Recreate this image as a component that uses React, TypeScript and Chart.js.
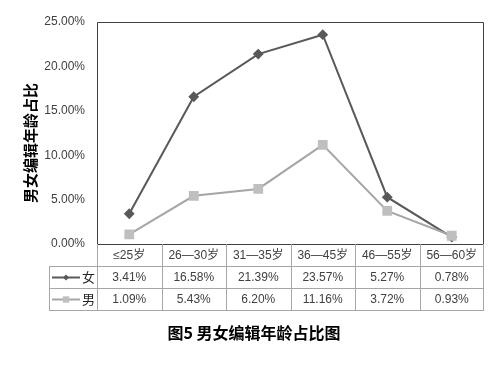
import React, { useEffect, useRef } from 'react';
import { Chart, registerables } from 'chart.js';

Chart.register(...registerables);

const categories = ['≤25岁', '26—30岁', '31—35岁', '36—45岁', '46—55岁', '56—60岁'];
const femaleValues = [3.41, 16.58, 21.39, 23.57, 5.27, 0.78];
const maleValues = [1.09, 5.43, 6.2, 11.16, 3.72, 0.93];
const seriesNames = ['女', '男'];
const yMin = 0;
const yMax = 25;
const yStep = 5;
const yTitle = '男女编辑年龄占比';
const caption = '图5 男女编辑年龄占比图';

const FONT = "'Liberation Sans', 'Noto Sans CJK SC', sans-serif";
const CJK = "'Noto Sans CJK SC', 'Liberation Sans', sans-serif";

const ROW_H = 22;
const LEGEND_W = 48;

function drawMarker(ctx: CanvasRenderingContext2D, style: string, x: number, y: number, r: number, color: string) {
  ctx.save();
  ctx.fillStyle = color;
  ctx.beginPath();
  if (style === 'rectRot') {
    ctx.moveTo(x, y - r);
    ctx.lineTo(x + r, y);
    ctx.lineTo(x, y + r);
    ctx.lineTo(x - r, y);
    ctx.closePath();
  } else {
    const s = r * Math.SQRT1_2;
    ctx.rect(x - s, y - s, 2 * s, 2 * s);
  }
  ctx.fill();
  ctx.restore();
}

const tablePlugin = {
  id: 'dataTable',
  beforeDatasetsDraw(chart: any) {
    const { ctx, chartArea } = chart;
    const { left, right, top, bottom } = chartArea;
    ctx.save();
    ctx.strokeStyle = '#404040';
    ctx.lineWidth = 1;
    ctx.beginPath();
    ctx.rect(Math.round(left) + 0.5, Math.round(top) + 0.5, Math.round(right - left) - 1, Math.round(bottom - top));
    ctx.stroke();
    ctx.restore();
  },
  afterDraw(chart: any) {
    const { ctx, chartArea } = chart;
    const { left, right, bottom } = chartArea;
    const xs = chart.scales.x;
    const n = categories.length;
    const tl = left - LEGEND_W;
    const b0 = Math.round(bottom);
    const r1 = b0 + ROW_H;
    const r3 = b0 + ROW_H * 3;
    ctx.save();
    // y axis title
    ctx.save();
    ctx.translate(left - 67, (chartArea.top + bottom) / 2 + 10);
    ctx.rotate(-Math.PI / 2);
    ctx.fillStyle = '#000000';
    ctx.font = `bold 15px ${CJK}`;
    ctx.textAlign = 'center';
    ctx.textBaseline = 'middle';
    ctx.fillText(yTitle, 0, 0);
    ctx.restore();

    ctx.strokeStyle = '#a6a6a6';
    ctx.lineWidth = 1;
    ctx.beginPath();
    for (let k = 1; k <= 3; k++) {
      const y = b0 + ROW_H * k + 0.5;
      ctx.moveTo(tl, y);
      ctx.lineTo(right, y);
    }
    const bounds: number[] = [left];
    for (let i = 1; i < n; i++) {
      bounds.push((xs.getPixelForTick(i - 1) + xs.getPixelForTick(i)) / 2);
    }
    bounds.push(right);
    bounds.forEach((bx, i) => {
      const x = Math.round(bx) + (i === n ? -0.5 : 0.5);
      ctx.moveTo(x, b0);
      ctx.lineTo(x, r3 + 0.5);
    });
    ctx.moveTo(Math.round(tl) + 0.5, r1);
    ctx.lineTo(Math.round(tl) + 0.5, r3 + 0.5);
    ctx.stroke();

    chart.data.datasets.forEach((ds: any, s: number) => {
      const yc = r1 + ROW_H * s + ROW_H / 2 + 0.5;
      ctx.strokeStyle = ds.borderColor;
      ctx.lineWidth = 2;
      ctx.beginPath();
      ctx.moveTo(tl + 3, yc);
      ctx.lineTo(tl + 31, yc);
      ctx.stroke();
      drawMarker(ctx, ds.pointStyle, tl + 17, yc, ds.pointRadius - 1, ds.pointBackgroundColor);
      ctx.fillStyle = '#262626';
      ctx.font = `13px ${CJK}`;
      ctx.textAlign = 'left';
      ctx.textBaseline = 'middle';
      ctx.fillText(ds.label, tl + 33, yc);
      ctx.fillStyle = '#404040';
      ctx.font = `12px ${FONT}`;
      ctx.textAlign = 'center';
      (ds.data as number[]).forEach((v, i) => {
        ctx.fillText(v.toFixed(2) + '%', xs.getPixelForTick(i), yc);
      });
    });
    ctx.restore();
  },
};

export default function App() {
  const ref = useRef<HTMLCanvasElement>(null);
  useEffect(() => {
    const canvas = ref.current;
    if (!canvas) return;
    const chart = new Chart(canvas, {
      type: 'line',
      data: {
        labels: categories,
        datasets: [
          {
            label: seriesNames[0],
            data: femaleValues,
            borderColor: '#595959',
            backgroundColor: '#595959',
            pointBackgroundColor: '#595959',
            pointBorderColor: '#595959',
            pointStyle: 'rectRot',
            pointRadius: 4,
            borderWidth: 2,
            tension: 0,
            order: 1,
          },
          {
            label: seriesNames[1],
            data: maleValues,
            borderColor: '#a6a6a6',
            backgroundColor: '#bfbfbf',
            pointBackgroundColor: '#bfbfbf',
            pointBorderColor: '#bfbfbf',
            pointStyle: 'rect',
            pointRadius: 5.5,
            borderWidth: 2,
            tension: 0,
            order: 0,
          },
        ],
      },
      options: {
        responsive: false,
        animation: false,
        layout: { padding: { top: 22, right: 15, left: 24, bottom: 0 } },
        plugins: {
          legend: { display: false },
          tooltip: { enabled: false },
          title: {
            display: true,
            position: 'bottom',
            text: caption,
            color: '#000000',
            font: { family: CJK, size: 16, weight: 'bold', lineHeight: 1.25 },
            padding: { top: 13, bottom: 23 },
          },
        },
        scales: {
          x: {
            type: 'category',
            offset: true,
            grid: { display: false, drawTicks: false },
            border: { display: false },
            ticks: {
              color: '#404040',
              font: { family: FONT, size: 12 },
              padding: 4,
              maxRotation: 0,
              autoSkip: false,
            },
            afterFit: (s: any) => {
              s.height = ROW_H * 3;
            },
          },
          y: {
            min: yMin,
            max: yMax,
            grid: { display: false, drawTicks: false },
            border: { display: false },
            ticks: {
              stepSize: yStep,
              color: '#404040',
              font: { family: FONT, size: 12 },
              padding: 12,
              callback: (v: any) => Number(v).toFixed(2) + '%',
            },
            afterFit: (s: any) => {
              s.width = 73;
            },
          },
        },
      },
      plugins: [tablePlugin],
    });
    return () => chart.destroy();
  }, []);
  return (
    <div style={{ position: 'absolute', left: 0, top: 0, width: 499, height: 366, background: '#ffffff' }}>
      <canvas ref={ref} width={499} height={366} style={{ width: 499, height: 366, display: 'block' }} />
    </div>
  );
}
